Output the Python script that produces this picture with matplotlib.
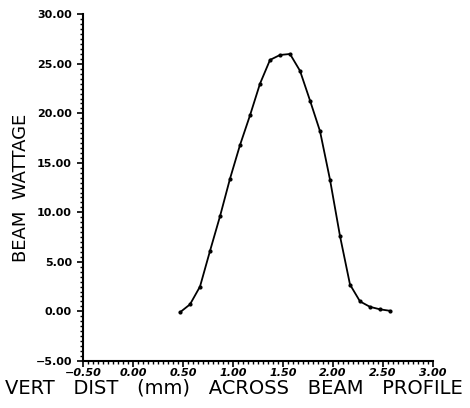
import matplotlib.pyplot as plt
from matplotlib.ticker import MultipleLocator

# Profil du faisceau
dist_mm = [0.47, 0.57, 0.67, 0.77, 0.87, 0.97, 1.07, 1.17, 1.27, 1.37, 1.47,
           1.57, 1.67, 1.77, 1.87, 1.97, 2.07, 2.17, 2.27, 2.37, 2.47, 2.57]
wattage = [-0.1, 0.7, 2.5, 6.1, 9.6, 13.4, 16.8, 19.8, 23.0, 25.4, 25.9,
           26.0, 24.3, 21.3, 18.2, 13.3, 7.6, 2.7, 1.0, 0.45, 0.2, 0.05]

x_ticks = [-0.5, 0.0, 0.5, 1.0, 1.5, 2.0, 2.5, 3.0]
y_ticks = [-5, 0, 5, 10, 15, 20, 25, 30]

fig = plt.figure(figsize=(4.7, 4.08), dpi=100)
ax = fig.add_axes([0.1766, 0.1157, 0.7447, 0.849])

ax.plot(dist_mm, wattage, color="black", lw=1.3, marker="o", ms=2.0)

ax.set_xlim(-0.5, 3.0)
ax.set_ylim(-5, 30)
ax.spines["top"].set_visible(False)
ax.spines["right"].set_visible(False)
ax.spines["left"].set_linewidth(1.5)
ax.spines["bottom"].set_linewidth(1.5)

ax.set_xticks(x_ticks)
ax.set_yticks(y_ticks)
ax.set_xticklabels([f"{v:.2f}".replace("-", "\u2212") for v in x_ticks],
                   fontsize=8, fontweight="bold", fontstyle="italic")
ax.set_yticklabels([f"{v:.2f}".replace("-", "\u2212") for v in y_ticks],
                   fontsize=8, fontweight="bold")
ax.xaxis.set_minor_locator(MultipleLocator(0.05))
ax.yaxis.set_minor_locator(MultipleLocator(0.5))
ax.tick_params(which="major", length=4, width=1.2)
ax.tick_params(which="minor", length=2.2, width=1.0)
ax.tick_params(axis="x", which="major", pad=1)
ax.tick_params(axis="y", which="major", pad=4)

fig.text(234 / 470, 0.049, "VERT   DIST   (mm)   ACROSS   BEAM   PROFILE",
         fontsize=14, ha="center", va="center")
ax.set_ylabel("BEAM  WATTAGE", fontsize=13, labelpad=4)

fig.savefig("out.png", dpi=100)
